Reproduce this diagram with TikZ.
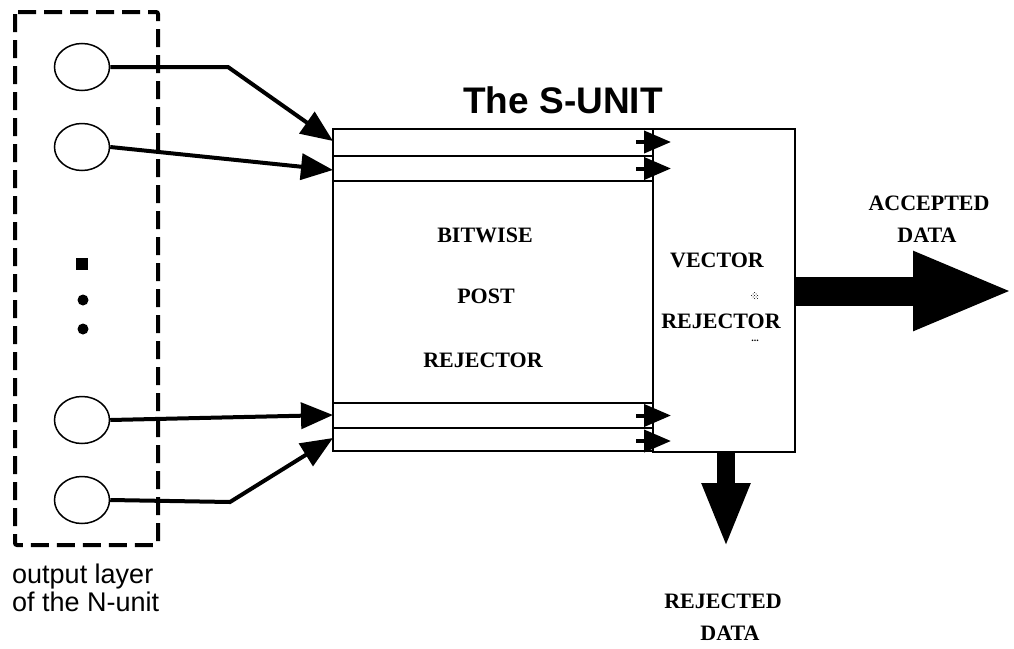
\documentclass[tikz,border=0pt]{standalone}
\usepackage{fontspec}
\setmainfont{Liberation Serif}
\newfontfamily\arial{Liberation Sans}
\usetikzlibrary{arrows.meta,patterns,shapes.geometric}
\begin{document}
\begin{tikzpicture}[x=1pt,y=-1pt,
  neuron/.style={draw,line width=1.5,ellipse,minimum width=55,minimum height=47,inner sep=0},
  unitbox/.style={draw,line width=1.5,rectangle,inner sep=0},
  feed/.style={line width=4,-{Triangle[length=32pt,width=26pt]}},
  pass/.style={line width=4,-{Triangle[length=27pt,width=22pt]}},
  lbl/.style={font=\fontsize{22}{24}\selectfont\bfseries,anchor=base,inner sep=0},
  layertext/.style={font=\arial\fontsize{27}{28}\selectfont,anchor=base west,inner sep=0},
]
\useasboundingbox (0,0) rectangle (1014,648);

% output layer of the N-unit
\draw[line width=4,dash pattern=on 18 off 8,rounded corners=2] (15,12) rectangle (158,545);
\node[neuron] (n1) at (82,67) {};
\node[neuron] (n2) at (82,147) {};
\node[neuron] (n3) at (82,420) {};
\node[neuron] (n4) at (82,500) {};
\fill (76,258) rectangle (88,270);
\fill (83,300) circle (5.5);
\fill (83,329) circle (5.5);
\node[layertext] (capa) at (12,583) {output layer};
\node[layertext] (capb) at (12,611) {of the N-unit};

% bitwise post rejector with its bit channels
\node[unitbox,minimum width=320,minimum height=322] (bpr) at (493,290) {};
\coordinate (s1) at (333,156);
\coordinate (s2) at (333,181);
\coordinate (s3) at (333,403);
\coordinate (s4) at (333,428);
\draw[line width=2] (s1) -- (s1 -| bpr.east);
\draw[line width=2] (s2) -- (s2 -| bpr.east);
\draw[line width=2] (s3) -- (s3 -| bpr.east);
\draw[line width=2] (s4) -- (s4 -| bpr.east);

% vector rejector
\node[unitbox,minimum width=142,minimum height=323] (vr) at (724,290.5) {};

% title
\node[font=\arial\fontsize{37}{40}\selectfont\bfseries,anchor=base,inner sep=0] (title) at (563,113) {The S-UNIT};

% inputs into the channels
\coordinate (i1) at (333,141);
\coordinate (i2) at (333,170);
\coordinate (i3) at (333,415);
\coordinate (i4) at (333,438);
\draw[feed] (n1.east) -- (228,67) -- (i1);
\draw[feed] (n2.east) -- (i2);
\draw[feed] (n3.east) -- (i3);
\draw[feed] (n4.east) -- (230,502) -- (i4);

% channel outputs into the vector rejector
\foreach \y/\nm in {142/o1,168.5/o2,415.5/o3,441/o4}{
  \coordinate (\nm) at (671,\y);
  \draw[pass] (636,\y) -- (\nm);
}

% accepted and rejected data
\coordinate (acc) at (1014,291);
\coordinate (rej) at (726,548);
\draw[line width=29,-{Triangle[length=101pt,width=72pt]}] (vr.east |- acc) -- (acc);
\draw[line width=18,-{Triangle[length=65pt,width=44pt]}] (vr.south -| rej) -- (rej);

% labels
\node[lbl] (bw) at (485,242) {BITWISE};
\node[lbl] (po) at (486,303) {POST};
\node[lbl] (re) at (483,367) {REJECTOR};
\node[lbl] (ve) at (717,267) {VECTOR};
\node[lbl] (vre) at (721,328) {REJECTOR};
\fill[pattern=crosshatch dots,pattern color=black] (755,296) circle (4);
\node[font=\fontsize{10}{10}\selectfont\bfseries,inner sep=0] (dts) at (755,341) {...};
\node[lbl] (ac) at (929,210) {ACCEPTED};
\node[lbl] (ad) at (927,242) {DATA};
\node[lbl] (rj) at (723,608) {REJECTED};
\node[lbl] (rd) at (730,640) {DATA};
\end{tikzpicture}
\end{document}
